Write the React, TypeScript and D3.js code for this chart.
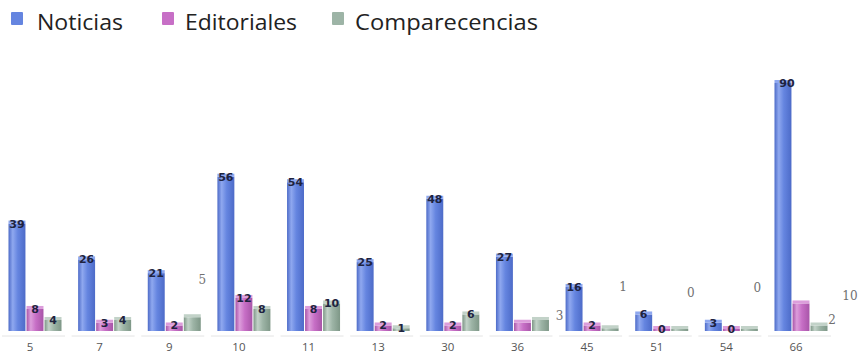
import React from "react";
import * as d3 from "d3";

const categories = ["5", "7", "9", "10", "11", "13", "30", "36", "45", "51", "54", "66"];
const seriesNames = ["Noticias", "Editoriales", "Comparecencias"];
const noticias = [39, 26, 21, 56, 54, 25, 48, 27, 16, 6, 3, 90];
const editoriales = [8, 3, 2, 12, 8, 2, 2, 3, 2, 0, 0, 10];
const comparecencias = [4, 4, 5, 8, 10, 1, 6, 4, 1, 0, 0, 2];
const seriesValues = [noticias, editoriales, comparecencias];

// label layout: detached labels (series index, category) drawn beside the group
const detached: { cat: string; s: number; dx: number; y: number }[] = [
  { cat: "9", s: 2, dx: 28, y: 284 },
  { cat: "36", s: 1, dx: 37, y: 320 },
  { cat: "45", s: 2, dx: 31, y: 291 },
  { cat: "51", s: 2, dx: 29, y: 297 },
  { cat: "54", s: 2, dx: 26, y: 292 },
  { cat: "66", s: 1, dx: 49, y: 300 },
  { cat: "66", s: 2, dx: 31, y: 324 },
];
const hiddenLabels = [{ cat: "36", s: 2 }];

const colors = ["#6585e0", "#c76fc6", "#9db4a6"];
const lightColors = ["#8fa8ef", "#dc9ddb", "#c2d2c8"];
const darkColors = ["#4d6bc8", "#a855a8", "#7e9787"];

export default function App() {
  const W = 859;
  const H = 355;
  const x = d3.scalePoint<string>().domain(categories).range([35, 801]);
  const inner = d3.scaleBand<number>().domain([0, 1, 2]).range([-26.5, 26.5]).paddingInner(0.06);
  const y = d3.scaleLinear().domain([0, 90]).range([331, 83]);
  const base = y(0);

  const isDetached = (cat: string, s: number) => detached.some((d) => d.cat === cat && d.s === s);
  const isHidden = (cat: string, s: number) => hiddenLabels.some((d) => d.cat === cat && d.s === s);

  const legendItems = [
    { sq: 11, tx: 37, tl: 86 },
    { sq: 162, tx: 185, tl: 112 },
    { sq: 332, tx: 355, tl: 183 },
  ];

  return (
    <svg width={W} height={H} style={{ position: "absolute", left: 0, top: 0, background: "#fff" }}>
      <defs>
        {colors.map((c, i) => (
          <linearGradient key={i} id={`g${i}`} x1="0" x2="1" y1="0" y2="0">
            <stop offset="0" stopColor={darkColors[i]} />
            <stop offset="0.25" stopColor={lightColors[i]} />
            <stop offset="0.55" stopColor={c} />
            <stop offset="1" stopColor={darkColors[i]} />
          </linearGradient>
        ))}
      </defs>

      {/* legend */}
      {seriesNames.map((n, i) => (
        <g key={n}>
          <rect x={legendItems[i].sq} y={12} width={12} height={13} fill={colors[i]} rx={1} />
          <text
            x={legendItems[i].tx}
            y={30}
            fontFamily="'Open Sans', 'DejaVu Sans', sans-serif"
            fontSize={22}
            fill="#222"
            textLength={legendItems[i].tl}
            lengthAdjust="spacingAndGlyphs"
          >
            {n}
          </text>
        </g>
      ))}

      {/* floor segments */}
      {categories.map((c) => (
        <line
          key={"f" + c}
          x1={(x(c) as number) - 33}
          x2={(x(c) as number) + 30}
          y1={base + 5}
          y2={base + 5}
          stroke="#e4e4e4"
          strokeWidth={1}
        />
      ))}

      {/* bars */}
      {categories.map((c, ci) =>
        seriesValues.map((vals, s) => {
          const v = vals[ci];
          const bx = (x(c) as number) + (inner(s) as number);
          const bw = inner.bandwidth();
          const top = Math.min(y(v), base - 2);
          const h = base - top;
          return (
            <g key={c + "-" + s}>
              <rect x={bx} y={top} width={bw} height={h} fill={`url(#g${s})`} />
              <rect x={bx} y={top - 3} width={bw} height={3} fill={lightColors[s]} />
            </g>
          );
        })
      )}

      {/* value labels on bars */}
      {categories.map((c, ci) =>
        seriesValues.map((vals, s) => {
          if (isDetached(c, s) || isHidden(c, s)) return null;
          const v = vals[ci];
          const bx = (x(c) as number) + (inner(s) as number) + inner.bandwidth() / 2;
          const top = Math.min(y(v), base - 2);
          return (
            <text
              key={"l" + c + s}
              x={bx + (v >= 90 ? 4 : 0)}
              y={top + 4}
              textAnchor="middle"
              fontFamily="'DejaVu Sans', sans-serif"
              fontSize={11}
              fontWeight="bold"
              fill="#1e2340"
            >
              {v}
            </text>
          );
        })
      )}

      {/* detached labels */}
      {detached.map((d, i) => {
        const ci = categories.indexOf(d.cat);
        return (
          <text
            key={"d" + i}
            x={(x(d.cat) as number) + d.dx}
            y={d.y}
            textAnchor="middle"
            fontFamily="'DejaVu Serif', serif"
            fontSize={12}
            fill="#707070"
          >
            {seriesValues[d.s][ci]}
          </text>
        );
      })}

      {/* category labels */}
      {categories.map((c) => (
        <text
          key={"c" + c}
          x={(x(c) as number) - 5}
          y={351}
          textAnchor="middle"
          fontFamily="'Open Sans', sans-serif"
          fontSize={11.5}
          fill="#555"
        >
          {c}
        </text>
      ))}
    </svg>
  );
}
